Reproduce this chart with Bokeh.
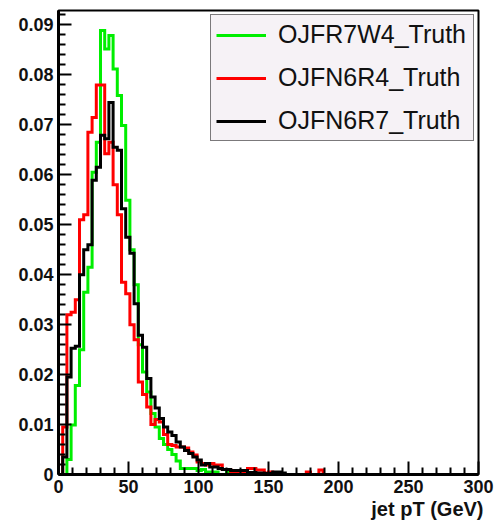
import numpy as np
from bokeh.plotting import figure
from bokeh.models import FixedTicker, PrintfTickFormatter, Legend, LegendItem, Title, Range1d
from bokeh.embed import file_html
from bokeh.resources import INLINE

# ---- data (jet pT histograms, 3 GeV bins from 0 to 300 GeV) ----
n_bins = 100
x_min, x_max = 0, 300

series_names = ["OJFR7W4_Truth", "OJFN6R4_Truth", "OJFN6R7_Truth"]

green_vals = [
    0, 0, 0.003, 0.0099, 0.0178, 0.025, 0.0365, 0.0415, 0.0605, 0.0665,
    0.0889, 0.0852, 0.0879, 0.0812, 0.0759, 0.0699, 0.0549, 0.045, 0.038, 0.026,
    0.0205, 0.0165, 0.0122, 0.0095, 0.0072, 0.006, 0.005, 0.004, 0.0027, 0.0012,
    0.0012, 0.0012, 0.0012, 0.0008, 0.001, 0.0005, 0.0005, 0.0005, 0, 0,
    0.0005, 0.0005,
]

red_vals = [
    0, 0.0095, 0.032, 0.0325, 0.035, 0.051, 0.052, 0.0685, 0.0715, 0.078,
    0.078, 0.0642, 0.0665, 0.058, 0.052, 0.0385, 0.0362, 0.030, 0.027, 0.0185,
    0.016, 0.0135, 0.010, 0.011, 0.0105, 0.008, 0.006, 0.0058, 0.0055, 0.0055,
    0.0053, 0.0045, 0.0039, 0.0025, 0.0022, 0.0019, 0.0022, 0.0019, 0.0019, 0.001,
    0.001, 0.0005, 0.0005, 0.0003, 0.0005, 0.0012, 0.0012, 0.0009, 0.0009, 0.0003,
    0.0005, 0, 0, 0, 0, 0, 0, 0, 0, 0.0005,
    0, 0, 0.0009,
]

black_vals = [
    0, 0.0035, 0.0195, 0.0253, 0.0257, 0.040, 0.045, 0.046, 0.0589, 0.0615,
    0.0679, 0.0672, 0.0745, 0.0655, 0.0649, 0.0532, 0.0475, 0.0443, 0.0342, 0.0279,
    0.0255, 0.0192, 0.0155, 0.0133, 0.0112, 0.0095, 0.0085, 0.0078, 0.0065, 0.0055,
    0.0048, 0.0042, 0.0035, 0.0029, 0.0019, 0.0022, 0.0015, 0.0015, 0.0012, 0.001,
    0.001, 0.0008, 0.0008, 0.0008, 0.0008, 0.0004, 0.0004, 0.0003, 0.0003, 0.0002,
    0.0002, 0.0005, 0.0005, 0.0003,
]

x_ticks = [0, 50, 100, 150, 200, 250, 300]
x_minor_ticks = [v for v in range(0, 301, 10) if v % 50 != 0]
y_ticks = [0, 0.01, 0.02, 0.03, 0.04, 0.05, 0.06, 0.07, 0.08, 0.09]
y_minor_ticks = [round(0.002 * i, 3) for i in range(0, 47) if i % 5 != 0]

x_title = "jet pT (GeV)"

# ---- build step paths through the data ----
edges = np.linspace(x_min, x_max, n_bins + 1)


def step_path(vals):
    v = np.zeros(n_bins)
    v[: len(vals)] = vals
    last = int(np.nonzero(v)[0].max()) + 2
    e = edges[: last + 1]
    v = v[:last]
    xs = np.repeat(e, 2)
    ys = np.concatenate([[0.0], np.repeat(v, 2), [0.0]])
    return xs, ys


p = figure(
    width=494, height=523,
    x_range=Range1d(0, 300), y_range=Range1d(0, 0.0929),
    output_backend="svg", toolbar_location=None,
    min_border_left=58, min_border_right=16, min_border_top=10, min_border_bottom=49,
)
p.background_fill_color = "white"
p.border_fill_color = "white"
p.xgrid.visible = False
p.ygrid.visible = False
p.outline_line_color = "black"
p.outline_line_width = 2
p.outline_line_alpha = 1

renderers = []
for vals, col in [(green_vals, "#00ee00"), (red_vals, "#ff0000"), (black_vals, "#000000")]:
    xs, ys = step_path(vals)
    r = p.line(xs, ys, line_color=col, line_width=3, line_join="miter")
    renderers.append(r)

for ax in (p.xaxis[0], p.yaxis[0]):
    ax.axis_line_width = 3
    ax.axis_line_color = "black"
    ax.major_tick_in = 13
    ax.major_tick_out = 0
    ax.minor_tick_in = 7
    ax.minor_tick_out = 0
    ax.major_tick_line_width = 2
    ax.minor_tick_line_width = 2
    ax.major_tick_line_color = "black"
    ax.minor_tick_line_color = "black"
    ax.major_label_text_font = "Liberation Sans"
    ax.major_label_text_font_style = "bold"
    ax.major_label_text_font_size = "18px"
    ax.major_label_text_color = "#111111"
    ax.major_label_standoff = 5

p.xaxis.ticker = FixedTicker(ticks=x_ticks, minor_ticks=x_minor_ticks)
p.yaxis.ticker = FixedTicker(ticks=y_ticks, minor_ticks=y_minor_ticks)
p.yaxis.formatter = PrintfTickFormatter(format="%.2g")

p.add_layout(Title(
    text=x_title, align="right", offset=-5, standoff=0,
    text_font="Liberation Sans", text_font_style="bold", text_font_size="20px",
    text_color="#111111",
), "below")

legend = Legend(
    items=[LegendItem(label=n, renderers=[r]) for n, r in zip(series_names, renderers)],
    location="top_right",
    margin=4, padding=5, spacing=14,
    glyph_width=50, glyph_height=28, label_height=28, label_width=190,
    label_standoff=12,
    label_text_font="Liberation Sans", label_text_font_size="25px",
    label_text_color="#111111",
    border_line_color="black", border_line_width=1.5,
    background_fill_color="#f6f2f6", background_fill_alpha=1,
)
p.add_layout(legend)

open("out.html", "w").write(file_html(p, INLINE))
